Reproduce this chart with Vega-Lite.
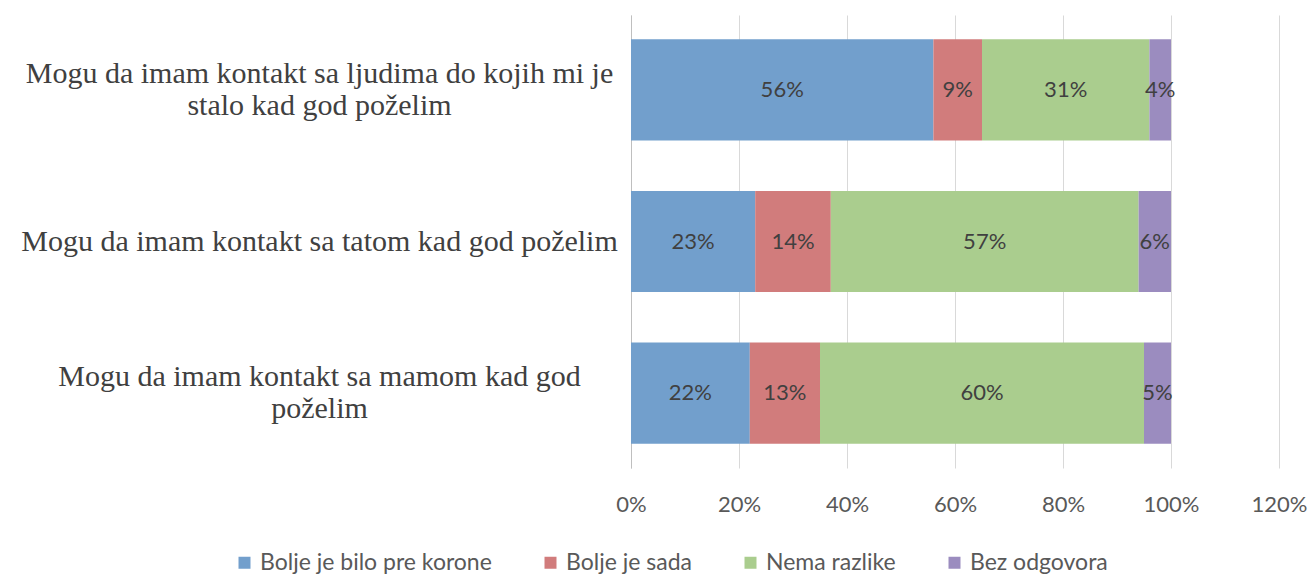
{
  "$schema": "https://vega.github.io/schema/vega-lite/v6.json",
  "autosize": "none",
  "width": 648,
  "height": 453,
  "padding": {"left": 631, "top": 15, "right": 32, "bottom": 108},
  "background": "white",
  "config": {
    "view": {"stroke": null},
    "axis": {"labelColor": "#595959", "gridColor": "#d9d9d9", "domainColor": "#bfbfbf"}
  },
  "data": {
    "values": [
      {"item": "Mogu da imam kontakt sa ljudima do kojih mi je stalo kad god poželim", "cat": "Bolje je bilo pre korone", "k": 1, "value": 0.56},
      {"item": "Mogu da imam kontakt sa ljudima do kojih mi je stalo kad god poželim", "cat": "Bolje je sada", "k": 2, "value": 0.09},
      {"item": "Mogu da imam kontakt sa ljudima do kojih mi je stalo kad god poželim", "cat": "Nema razlike", "k": 3, "value": 0.31},
      {"item": "Mogu da imam kontakt sa ljudima do kojih mi je stalo kad god poželim", "cat": "Bez odgovora", "k": 4, "value": 0.04},
      {"item": "Mogu da imam kontakt sa tatom kad god poželim", "cat": "Bolje je bilo pre korone", "k": 1, "value": 0.23},
      {"item": "Mogu da imam kontakt sa tatom kad god poželim", "cat": "Bolje je sada", "k": 2, "value": 0.14},
      {"item": "Mogu da imam kontakt sa tatom kad god poželim", "cat": "Nema razlike", "k": 3, "value": 0.57},
      {"item": "Mogu da imam kontakt sa tatom kad god poželim", "cat": "Bez odgovora", "k": 4, "value": 0.06},
      {"item": "Mogu da imam kontakt sa mamom kad god poželim", "cat": "Bolje je bilo pre korone", "k": 1, "value": 0.22},
      {"item": "Mogu da imam kontakt sa mamom kad god poželim", "cat": "Bolje je sada", "k": 2, "value": 0.13},
      {"item": "Mogu da imam kontakt sa mamom kad god poželim", "cat": "Nema razlike", "k": 3, "value": 0.60},
      {"item": "Mogu da imam kontakt sa mamom kad god poželim", "cat": "Bez odgovora", "k": 4, "value": 0.05}
    ]
  },
  "encoding": {
    "y": {
      "field": "item",
      "type": "nominal",
      "sort": null,
      "scale": {"paddingInner": 0.333, "paddingOuter": 0.16},
      "axis": {
        "title": null,
        "ticks": false,
        "tickSize": 0,
        "grid": false,
        "domain": true,
        "labelFont": "Liberation Serif",
        "labelFontSize": 30,
        "labelColor": "#404040",
        "labelAlign": "center",
        "labelBaseline": "middle",
        "labelPadding": 312,
        "labelLineHeight": 32,
        "labelLimit": 700,
        "labelOffset": {"condition": {"test": "datum.value == 'Mogu da imam kontakt sa tatom kad god poželim'", "value": 0}, "value": -16},
        "labelExpr": "datum.label == 'Mogu da imam kontakt sa ljudima do kojih mi je stalo kad god poželim' ? ['Mogu da imam kontakt sa ljudima do kojih mi je', 'stalo kad god poželim'] : datum.label == 'Mogu da imam kontakt sa mamom kad god poželim' ? ['Mogu da imam kontakt sa mamom kad god', 'poželim'] : datum.label"
      }
    }
  },
  "layer": [
    {
      "mark": {"type": "bar"},
      "encoding": {
        "x": {
          "field": "value",
          "type": "quantitative",
          "stack": "zero",
          "scale": {"domain": [0, 1.2], "nice": false},
          "axis": {
            "title": null,
            "format": ".0%",
            "values": [0, 0.2, 0.4, 0.6, 0.8, 1.0, 1.2],
            "domain": false,
            "ticks": false,
            "grid": true,
            "labelFlush": false,
            "labelFont": "Lato",
            "labelFontSize": 22,
            "labelPadding": 26
          }
        },
        "color": {
          "field": "cat",
          "type": "nominal",
          "scale": {
            "domain": ["Bolje je bilo pre korone", "Bolje je sada", "Nema razlike", "Bez odgovora"],
            "range": ["#729fcc", "#d17c7c", "#aacd8e", "#9b8cbf"]
          },
          "legend": {
            "title": null,
            "orient": "none",
            "direction": "horizontal",
            "legendX": -398,
            "legendY": 536,
            "symbolType": "square",
            "symbolSize": 144,
            "symbolStrokeWidth": 0,
            "labelFont": "Lato",
            "labelFontSize": 23,
            "labelColor": "#595959",
            "labelOffset": 4,
            "columnPadding": 47,
            "labelLimit": 400
          }
        },
        "order": {"field": "k", "type": "quantitative"}
      }
    },
    {
      "mark": {"type": "text", "font": "Lato", "fontSize": 22, "color": "#404040", "baseline": "middle", "align": "center"},
      "encoding": {
        "x": {"field": "value", "type": "quantitative", "stack": "zero", "bandPosition": 0.5},
        "detail": {"field": "cat"},
        "order": {"field": "k", "type": "quantitative"},
        "text": {"field": "value", "type": "quantitative", "format": ".0%"}
      }
    }
  ]
}
